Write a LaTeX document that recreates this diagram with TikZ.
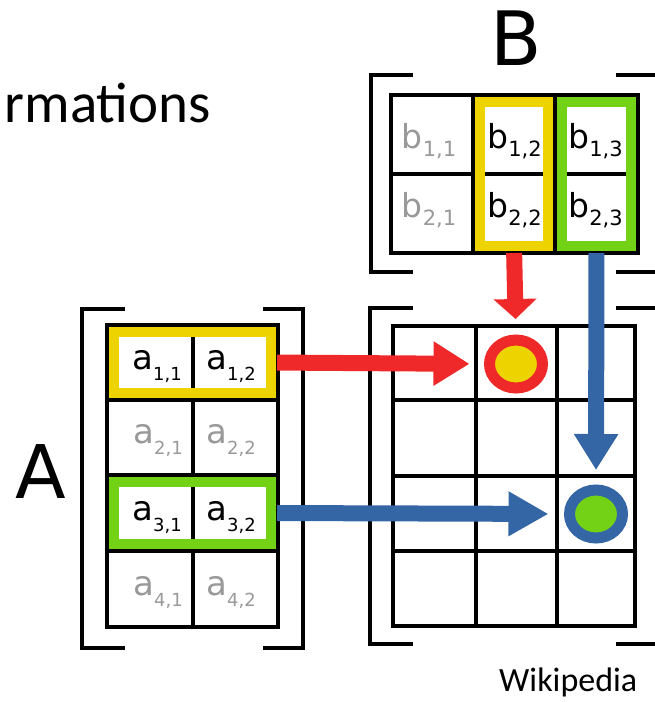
\documentclass[tikz,border=0pt]{standalone}
\usepackage{fontspec}
\setmainfont{DejaVu Sans}
\newfontfamily\calfont{Carlito}
\usetikzlibrary{arrows.meta,shapes.geometric}

\definecolor{markyellow}{HTML}{EDD400}
\definecolor{markgreen}{HTML}{73D216}
\definecolor{markred}{HTML}{EF2929}
\definecolor{markblue}{HTML}{3465A4}
\definecolor{fadedgray}{HTML}{999999}

\newcommand{\entA}[1]{{\fontsize{34}{34}\selectfont a}\raisebox{-11pt}{\fontsize{18}{18}\selectfont #1}}
\newcommand{\entB}[1]{{\fontsize{33}{33}\selectfont b}\raisebox{-8pt}{\fontsize{21}{21}\selectfont #1}}

\tikzset{
  bracket/.style={line width=4.5pt},
  gridline/.style={line width=3.5pt},
  rowframe/.style={line width=10pt,inner sep=0pt,outer sep=0pt},
  elem/.style={anchor=base,inner sep=0pt},
  faded/.style={text=fadedgray},
  ring/.style={ellipse,line width=11pt,minimum width=53pt,minimum height=48pt,inner sep=0pt,outer sep=0pt},
  fatarrow/.style={line width=16pt,-{Triangle[length=#1,width=42pt]},shorten <=6pt,shorten >=20pt},
  fatarrow/.default=36pt
}

\begin{document}
\begin{tikzpicture}[x=1pt,y=-1pt]
\useasboundingbox (0,0) rectangle (655,702);
\clip (0,0) rectangle (655,702);

%title
\node[anchor=base east,inner sep=0pt] (title) at (211,122) {\calfont\fontsize{57}{57}\selectfont rmations};

%matrix A
\node[anchor=base,inner sep=0pt] (labelA) at (41,498) {\fontsize{74}{74}\selectfont A};
\draw[bracket] (125,309) -| (82,648) -- (125,648);
\draw[bracket] (263,309) -| (303,648) -- (263,648);
\draw[gridline] (107,325) rectangle (278,627);
\draw[gridline] (193,325) -- (193,627);
\draw[gridline] (107,400) -- (278,400);
\draw[gridline] (107,475) -- (278,475);
\draw[gridline] (107,551) -- (278,551);
\node[rowframe,draw=markyellow,minimum width=157pt,minimum height=61pt] (arow1) at (192.5,362.5) {};
\node[rowframe,draw=markgreen,minimum width=157pt,minimum height=62pt] (arow3) at (192.5,513) {};
\node[elem] (a11) at (157,369) {\entA{1,1}};
\node[elem] (a12) at (231,369) {\entA{1,2}};
\node[elem,faded] (a21) at (158,443) {\entA{2,1}};
\node[elem,faded] (a22) at (231,443) {\entA{2,2}};
\node[elem] (a31) at (157,520) {\entA{3,1}};
\node[elem] (a32) at (231,520) {\entA{3,2}};
\node[elem,faded] (a41) at (158,595) {\entA{4,1}};
\node[elem,faded] (a42) at (231,595) {\entA{4,2}};

%matrix B
\node[anchor=base,inner sep=0pt] (labelB) at (516,65) {\fontsize{75}{75}\selectfont B};
\draw[bracket] (413,75) -| (371,272) -- (413,272);
\draw[bracket] (616,75) -| (658,272) -- (616,272);
\draw[gridline] (391,95) rectangle (638,253);
\draw[gridline] (473,95) -- (473,253);
\draw[gridline] (555,95) -- (555,253);
\draw[gridline] (391,174) -- (638,174);
\node[rowframe,draw=markyellow,minimum width=68pt,minimum height=144pt] (bcol2) at (514,174) {};
\node[rowframe,draw=markgreen,minimum width=69pt,minimum height=144pt] (bcol3) at (596.5,174) {};
\node[elem,faded] (b11) at (429,148) {\entB{1,1}};
\node[elem] (b12) at (514.5,148) {\entB{1,2}};
\node[elem] (b13) at (595.5,148) {\entB{1,3}};
\node[elem,faded] (b21) at (429,217) {\entB{2,1}};
\node[elem] (b22) at (514.5,217) {\entB{2,2}};
\node[elem] (b23) at (595.5,217) {\entB{2,3}};

%product
\draw[bracket] (413,308) -| (370,644) -- (413,644);
\draw[bracket] (616,308) -| (658,644) -- (616,644);
\draw[gridline] (393,326) rectangle (635,626);
\draw[gridline] (476,326) -- (476,626);
\draw[gridline] (557,326) -- (557,626);
\draw[gridline] (393,400) -- (635,400);
\draw[gridline] (393,476) -- (635,476);
\draw[gridline] (393,551) -- (635,551);
\node[ring,draw=markred,fill=markyellow] (c12) at (516,364) {};
\node[ring,draw=markblue,fill=markgreen] (c23) at (596,514) {};

%arrows
\draw[fatarrow,markred] (arow1.east) -- (c12.west);
\draw[fatarrow=20pt,markred,shorten <=7pt,shorten >=21pt] (bcol2.south) -- (c12.north);
\draw[fatarrow,markblue,shorten <=7pt] (bcol3.south) -- (c23.north);
\draw[fatarrow=40pt,markblue,shorten >=21pt] (arow3.east) -- (c23.west);

%credit
\node[anchor=base west,inner sep=0pt] (credit) at (499,691) {\calfont\fontsize{34}{34}\selectfont Wikipedia};
\end{tikzpicture}
\end{document}
